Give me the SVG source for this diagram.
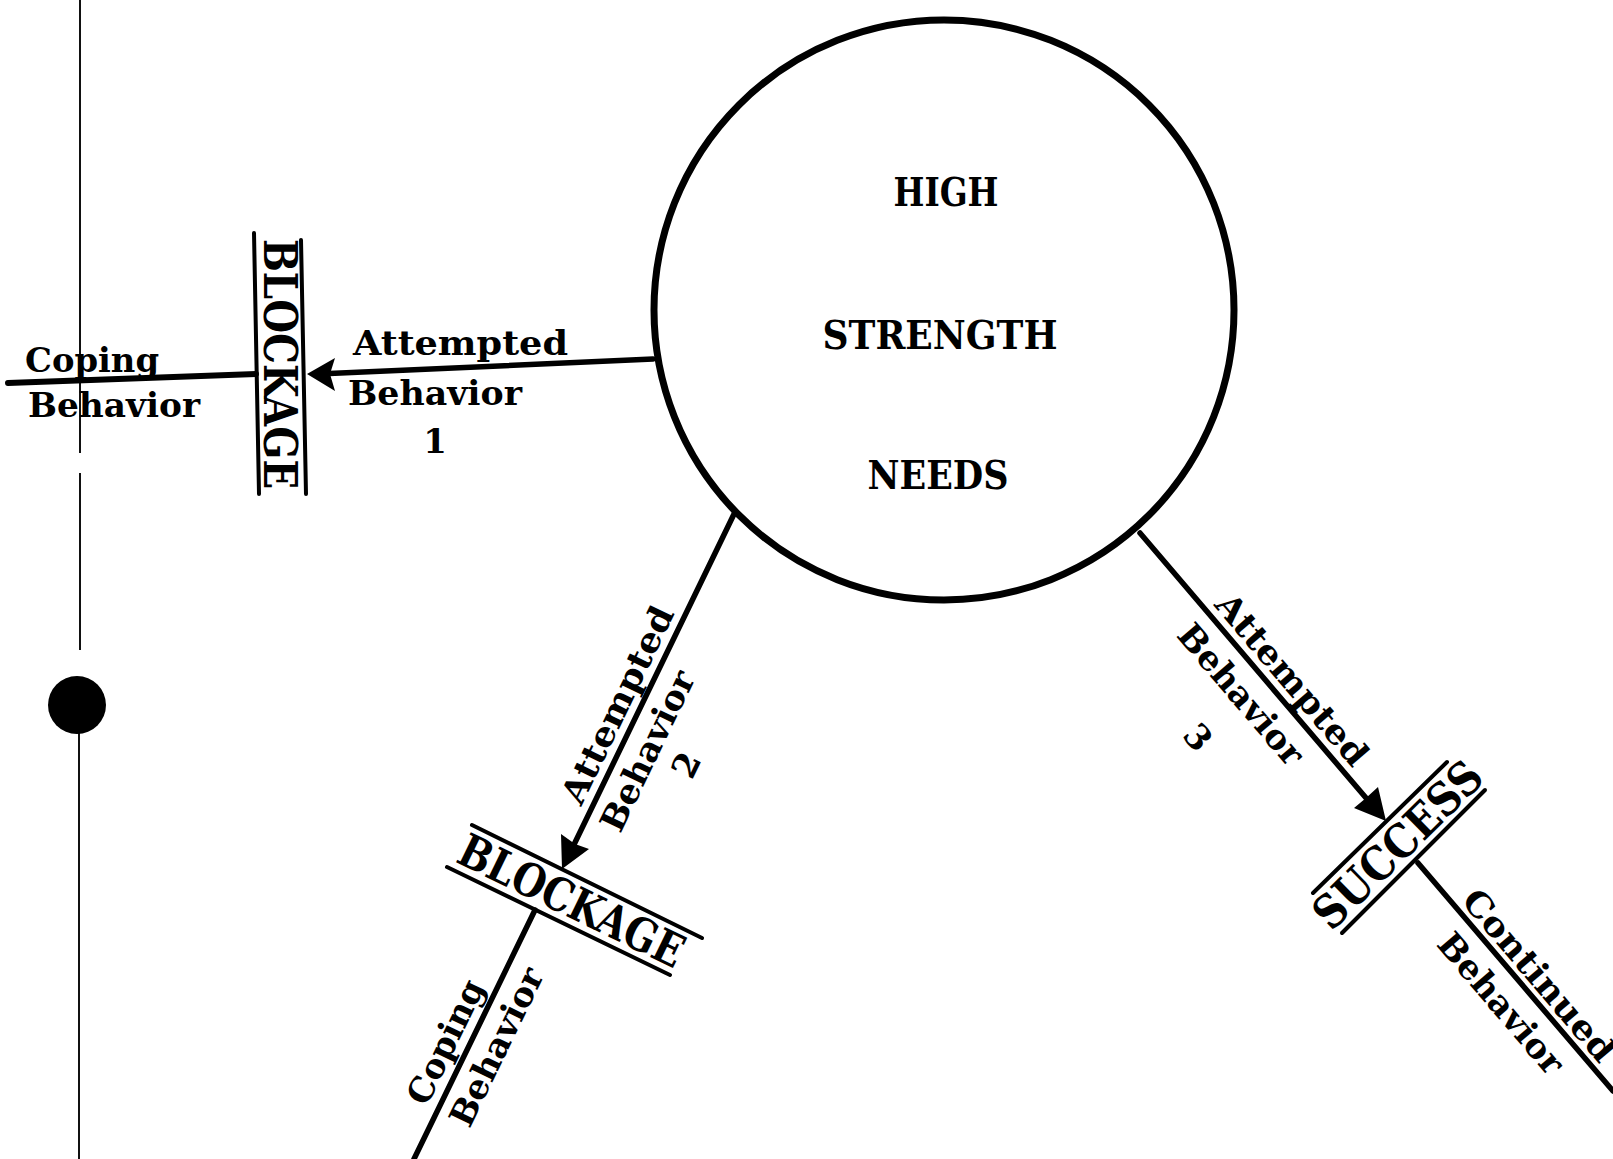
<svg xmlns="http://www.w3.org/2000/svg" width="1613" height="1159" viewBox="0 0 1613 1159">
<style>
  .bg{fill:#fff}
  .ln{stroke:#000;stroke-width:5.5;fill:none;stroke-linecap:round}
  .bar{stroke:#000;stroke-width:4;fill:none;stroke-linecap:round}
  .edge{stroke:#111;stroke-width:2;fill:none}
  .head{fill:#000}
  .lbl{font-family:"DejaVu Serif","Liberation Serif",serif;font-weight:bold;font-size:34px;fill:#000}
  .big{font-family:"DejaVu Serif","Liberation Serif",serif;font-weight:bold;font-size:46px;fill:#000}
  .need{font-family:"DejaVu Serif","Liberation Serif",serif;font-weight:bold;font-size:40px;fill:#000}
</style>
<rect class="bg" x="0" y="0" width="1613" height="1159"/>

<g id="page-edge">
  <line class="edge" x1="80" y1="0" x2="80" y2="453"/>
  <line class="edge" x1="80" y1="473" x2="80" y2="650"/>
  <line class="edge" x1="79" y1="705" x2="79" y2="1159"/>
  <circle cx="77" cy="705" r="29" fill="#000"/>
</g>

<g id="connectors">
  <!-- Attempted Behavior 1 -->
  <line class="ln" x1="653" y1="359" x2="318" y2="374"/>
  <polygon class="head" points="307,374 335,358 330,374 335,391"/>
  <!-- Coping Behavior (left) -->
  <line class="ln" x1="8" y1="383" x2="256" y2="374" style="stroke-width:6"/>
  <!-- Attempted Behavior 2 -->
  <line class="ln" x1="735" y1="512" x2="568" y2="857"/>
  <polygon class="head" points="562,869 561,834 575,844 589,849"/>
  <!-- Coping Behavior (bottom) -->
  <line class="ln" x1="535" y1="910" x2="414" y2="1159"/>
  <!-- Attempted Behavior 3 -->
  <line class="ln" x1="1140" y1="533" x2="1378" y2="812"/>
  <polygon class="head" points="1386,821 1354,808 1366,798 1378,787"/>
  <!-- Continued Behavior -->
  <line class="ln" x1="1418" y1="863" x2="1613" y2="1091"/>
</g>

<g id="needs">
  <circle cx="944" cy="310" r="290" fill="none" stroke="#000" stroke-width="7"/>
  <text class="need" x="946" y="206" text-anchor="middle" textLength="105" lengthAdjust="spacingAndGlyphs">HIGH</text>
  <text class="need" x="940" y="349" text-anchor="middle" textLength="235" lengthAdjust="spacingAndGlyphs">STRENGTH</text>
  <text class="need" x="938" y="489" text-anchor="middle" textLength="141" lengthAdjust="spacingAndGlyphs">NEEDS</text>
</g>

<g id="blockage-1">
  <line class="bar" x1="254" y1="233" x2="259" y2="494"/>
  <line class="bar" x1="301" y1="240" x2="306" y2="494"/>
  <text class="big" transform="translate(281,364) rotate(90)" x="0" y="17" text-anchor="middle" textLength="250" lengthAdjust="spacingAndGlyphs">BLOCKAGE</text>
</g>

<g id="blockage-2">
  <line class="bar" x1="472" y1="825" x2="702" y2="938"/>
  <line class="bar" x1="447" y1="867" x2="670" y2="975"/>
  <text class="big" transform="translate(572,900) rotate(26)" x="0" y="17" text-anchor="middle" textLength="245" lengthAdjust="spacingAndGlyphs">BLOCKAGE</text>
</g>

<g id="success">
  <line class="bar" x1="1313" y1="893" x2="1447" y2="762"/>
  <line class="bar" x1="1342" y1="933" x2="1485" y2="790"/>
  <text class="big" transform="translate(1397,844) rotate(-44.5)" x="0" y="17" text-anchor="middle" textLength="217" lengthAdjust="spacingAndGlyphs">SUCCESS</text>
</g>

<g id="label-1">
  <text class="lbl" x="353" y="355" textLength="215" lengthAdjust="spacingAndGlyphs">Attempted</text>
  <text class="lbl" x="348" y="405" textLength="174" lengthAdjust="spacingAndGlyphs">Behavior</text>
  <text class="lbl" x="435" y="453" text-anchor="middle">1</text>
</g>

<g id="label-coping-1">
  <text class="lbl" x="25" y="372" textLength="134" lengthAdjust="spacingAndGlyphs">Coping</text>
  <text class="lbl" x="28" y="417" textLength="172" lengthAdjust="spacingAndGlyphs">Behavior</text>
</g>

<g id="label-2">
  <text class="lbl" transform="translate(628,710) rotate(-64.2)" x="0" y="0" text-anchor="middle" textLength="215" lengthAdjust="spacingAndGlyphs">Attempted</text>
  <text class="lbl" transform="translate(658,756) rotate(-64.2)" x="0" y="0" text-anchor="middle" textLength="174" lengthAdjust="spacingAndGlyphs">Behavior</text>
  <text class="lbl" transform="translate(697,770) rotate(-64.2)" x="0" y="0" text-anchor="middle">2</text>
</g>

<g id="label-coping-2">
  <text class="lbl" transform="translate(456,1047) rotate(-64.1)" x="0" y="0" text-anchor="middle" textLength="134" lengthAdjust="spacingAndGlyphs">Coping</text>
  <text class="lbl" transform="translate(507,1052) rotate(-64.1)" x="0" y="0" text-anchor="middle" textLength="172" lengthAdjust="spacingAndGlyphs">Behavior</text>
</g>

<g id="label-3">
  <text class="lbl" transform="translate(1283,687) rotate(49.5)" x="0" y="0" text-anchor="middle" textLength="215" lengthAdjust="spacingAndGlyphs">Attempted</text>
  <text class="lbl" transform="translate(1232,702) rotate(49.5)" x="0" y="0" text-anchor="middle" textLength="174" lengthAdjust="spacingAndGlyphs">Behavior</text>
  <text class="lbl" transform="translate(1189,745) rotate(49.5)" x="0" y="0" text-anchor="middle">3</text>
</g>

<g id="label-continued">
  <text class="lbl" transform="translate(1530,983) rotate(49.5)" x="0" y="0" text-anchor="middle" textLength="215" lengthAdjust="spacingAndGlyphs">Continued</text>
  <text class="lbl" transform="translate(1492,1011) rotate(49.5)" x="0" y="0" text-anchor="middle" textLength="174" lengthAdjust="spacingAndGlyphs">Behavior</text>
</g>
</svg>
